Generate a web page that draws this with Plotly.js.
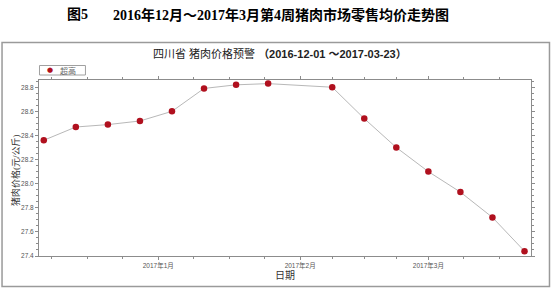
<!DOCTYPE html>
<html>
<head>
<meta charset="utf-8">
<script src="https://cdn.plot.ly/plotly-3.0.1.min.js"></script>
<style>html,body{margin:0;padding:0;background:#fff;}#chart{width:554px;height:289px;}</style>
</head>
<body>
<div id="chart"></div>
<script>
// ---- data ----
const dates = ['2016-12-07','2016-12-14','2016-12-21','2016-12-28','2017-01-04','2017-01-11','2017-01-18','2017-01-25',
               '2017-02-08','2017-02-15','2017-02-22','2017-03-01','2017-03-08','2017-03-15','2017-03-22'];
const prices = [28.36,28.47,28.49,28.52,28.60,28.79,28.82,28.83,28.80,28.54,28.30,28.10,27.93,27.72,27.44];
const seriesName = '超高';
const xTickVals = ['2017-01-01','2017-02-01','2017-03-01'];
const xTickText = ['2017年1月','2017年2月','2017年3月'];
const yTickVals = [27.4,27.6,27.8,28.0,28.2,28.4,28.6,28.8];
const yTickText = ['27.4','27.6','27.8','28.0','28.2','28.4','28.6','28.8'];
const mainTitlePrefix = '图5';
const mainTitle = '2016年12月～2017年3月第4周猪肉市场零售均价走势图';
const chartTitleCn = '四川省 猪肉价格预警';
const chartTitleRange = '（2016-12-01 ～2017-03-23）';
const yTitle = '猪肉价格(元/公斤)';
const xTitle = '日期';

// minor ticks: quarter-month positions
function quarterMonthTicks(startY, startM, months) {
  const out = [];
  for (let i = 0; i < months; i++) {
    const y = startY + Math.floor((startM - 1 + i) / 12);
    const m = (startM - 1 + i) % 12;
    const t0 = Date.UTC(y, m, 1);
    const t1 = Date.UTC(y, m + 1, 1);
    for (let q = 0; q < 4; q++) {
      const t = new Date(t0 + (t1 - t0) * q / 4);
      out.push(t.toISOString().slice(0, 19).replace('T', ' '));
    }
  }
  return out;
}
const minorX = quarterMonthTicks(2016, 12, 4);

const axisColor = '#8c8c8c';
const markerColor = '#b0101e';
const tickFont = {family: 'Liberation Sans, Noto Sans CJK SC', size: 6.5, color: '#555'};

// pixel -> paper helpers (plot area: x 39..531.5, y 80..256)
const px = v => (v - 39) / 492.5;
const py = v => (256 - v) / 176;

const lineTrace = {
  type: 'scatter', mode: 'lines', name: seriesName, showlegend: false,
  x: dates, y: prices,
  line: {color: '#b8b8b8', width: 1}
};
const markerTrace = {
  type: 'scatter', mode: 'markers', name: seriesName, showlegend: false,
  x: dates, y: prices,
  marker: {color: markerColor, size: 6.5}
};

const layout = {
  width: 554, height: 289,
  margin: {l: 39, r: 22.5, t: 80, b: 33, pad: 0},
  paper_bgcolor: '#fff', plot_bgcolor: '#fff',
  showlegend: false,
  xaxis: {
    type: 'date',
    range: ['2016-12-05 23:00', '2017-03-23 10:00'],
    tickmode: 'array', tickvals: xTickVals, ticktext: xTickText,
    ticks: 'outside', ticklen: 3, tickcolor: axisColor, tickwidth: 1,
    showline: true, linecolor: axisColor, linewidth: 1, mirror: 'ticks',
    showgrid: false, zeroline: false,
    tickfont: tickFont,
    minor: {tickmode: 'array', tickvals: minorX, ticks: 'outside', ticklen: 2, tickcolor: axisColor, showgrid: false},
    title: {text: xTitle, font: {family: 'Liberation Serif, Noto Sans CJK SC', size: 10, color: '#333'}, standoff: 2}
  },
  yaxis: {
    range: [27.4, 28.86],
    tickmode: 'array', tickvals: yTickVals, ticktext: yTickText,
    ticks: 'outside', ticklen: 3, tickcolor: axisColor, tickwidth: 1,
    showline: true, linecolor: axisColor, linewidth: 1, mirror: 'ticks',
    showgrid: false, zeroline: false,
    tickfont: tickFont,
    minor: {dtick: 0.05, tick0: 27.4, ticks: 'outside', ticklen: 2, tickcolor: axisColor, showgrid: false}
  },
  shapes: [
    {type: 'rect', xref: 'paper', yref: 'paper',
     x0: px(2), x1: px(550), y0: py(286.5), y1: py(42.5),
     line: {color: '#9a9a9a', width: 1.5}, fillcolor: 'rgba(0,0,0,0)', layer: 'below'},
    // legend box
    {type: 'rect', xref: 'paper', yref: 'paper',
     x0: px(39.5), x1: px(85.5), y0: py(75), y1: py(65.5),
     line: {color: '#a0a0a0', width: 1}, fillcolor: '#fff', layer: 'above'}
  ],
  annotations: [
    {text: '<b>' + mainTitlePrefix + '</b>', xref: 'paper', yref: 'paper', x: px(77.5), y: py(15),
     xanchor: 'center', yanchor: 'middle', showarrow: false,
     font: {family: 'Liberation Serif, Noto Sans CJK SC', size: 14, color: '#000'}},
    {text: '<b>' + mainTitle + '</b>', xref: 'paper', yref: 'paper', x: px(281.5), y: py(15),
     xanchor: 'center', yanchor: 'middle', showarrow: false,
     font: {family: 'Liberation Serif, Noto Sans CJK SC', size: 14, color: '#000'}},
    {text: chartTitleCn + ' <b>' + chartTitleRange + '</b>', xref: 'paper', yref: 'paper', x: px(151), y: py(53.5),
     xanchor: 'left', yanchor: 'middle', showarrow: false,
     font: {family: 'Liberation Sans, Noto Sans CJK SC', size: 11, color: '#222'}},
    // legend content
    {text: '●', xref: 'paper', yref: 'paper', x: px(50), y: py(70.3),
     xanchor: 'center', yanchor: 'middle', showarrow: false,
     font: {family: 'DejaVu Sans', size: 7, color: markerColor}},
    {text: seriesName, xref: 'paper', yref: 'paper', x: px(68.5), y: py(70.3),
     xanchor: 'center', yanchor: 'middle', showarrow: false,
     font: {family: 'Noto Sans CJK SC', size: 8, color: '#666'}},
    // y-axis title
    {text: yTitle, xref: 'paper', yref: 'paper', x: px(15), y: py(170),
     xanchor: 'center', yanchor: 'middle', textangle: -90, showarrow: false,
     font: {family: 'Liberation Serif, Noto Sans CJK SC', size: 9, color: '#333'}}
  ]
};

Plotly.newPlot('chart', [lineTrace, markerTrace], layout, {displayModeBar: false, staticPlot: true});
</script>
</body>
</html>
